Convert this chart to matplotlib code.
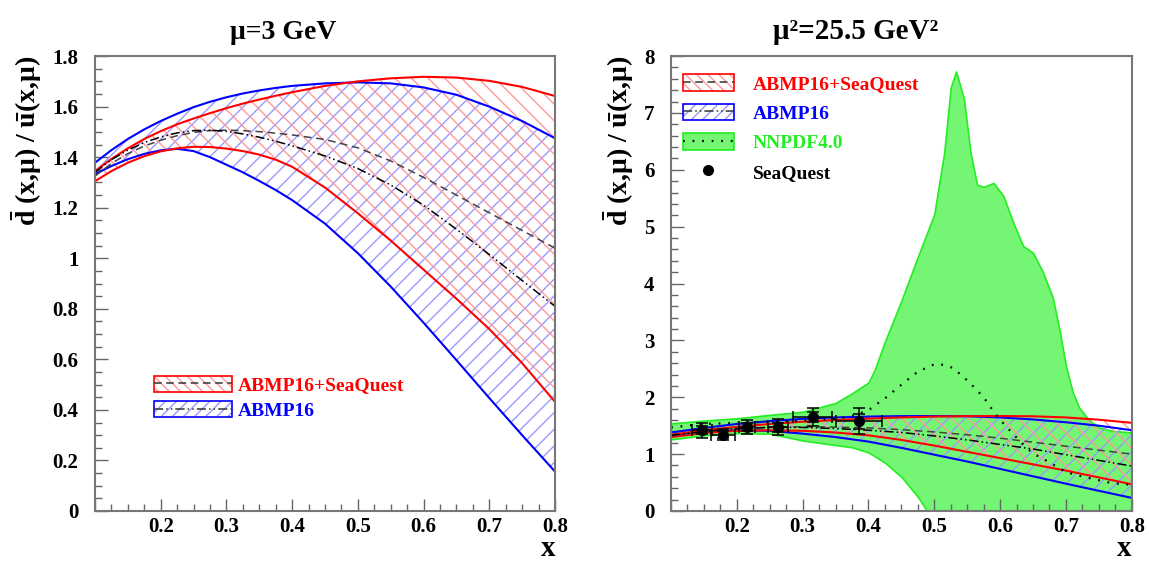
import matplotlib
matplotlib.use('Agg')
import matplotlib.pyplot as plt
from matplotlib.patches import Patch
from matplotlib.lines import Line2D
from matplotlib.legend_handler import HandlerTuple
from matplotlib.ticker import MultipleLocator, FormatStrFormatter

plt.rcParams['font.family'] = ['Liberation Serif', 'DejaVu Serif']
plt.rcParams['font.weight'] = 'bold'
plt.rcParams['mathtext.fontset'] = 'custom'
plt.rcParams['mathtext.rm'] = 'Liberation Serif:bold'
plt.rcParams['mathtext.bf'] = 'Liberation Serif:bold'
plt.rcParams['mathtext.it'] = 'Liberation Serif:italic:bold'
plt.rcParams['hatch.linewidth'] = 1.0

# mu = 3 GeV, x grid of the ABMP16 curves
xl = [0.10, 0.125, 0.15, 0.175, 0.20, 0.225, 0.25, 0.275, 0.30, 0.325, 0.35, 0.375, 0.40,
      0.45, 0.50, 0.55, 0.60, 0.65, 0.70, 0.75, 0.80]
l_sq_up = [1.345, 1.393, 1.435, 1.472, 1.503, 1.530, 1.553, 1.574, 1.594, 1.612, 1.628, 1.643, 1.657,
           1.682, 1.700, 1.712, 1.718, 1.715, 1.702, 1.678, 1.642]
l_sq_lo = [1.305, 1.345, 1.378, 1.404, 1.423, 1.435, 1.441, 1.440, 1.434, 1.424, 1.410, 1.390, 1.362,
           1.280, 1.178, 1.070, 0.955, 0.840, 0.720, 0.585, 0.432]
l_sq_c = [1.325, 1.375, 1.414, 1.444, 1.467, 1.485, 1.498, 1.505, 1.507, 1.505, 1.501, 1.495, 1.488,
          1.470, 1.437, 1.385, 1.320, 1.250, 1.180, 1.110, 1.040]
l_ab_up = [1.378, 1.428, 1.472, 1.510, 1.543, 1.572, 1.598, 1.619, 1.637, 1.652, 1.664, 1.674, 1.682,
           1.692, 1.696, 1.692, 1.676, 1.647, 1.600, 1.543, 1.475]
l_ab_lo = [1.333, 1.365, 1.392, 1.413, 1.427, 1.433, 1.424, 1.400, 1.370, 1.340, 1.306, 1.270, 1.230,
           1.137, 1.020, 0.888, 0.745, 0.597, 0.447, 0.300, 0.156]
l_ab_c = [1.340, 1.390, 1.428, 1.458, 1.480, 1.496, 1.505, 1.507, 1.502, 1.492, 1.479, 1.463, 1.445,
          1.405, 1.355, 1.290, 1.210, 1.115, 1.015, 0.912, 0.810]

# mu^2 = 25.5 GeV^2
xr = [0.10, 0.15, 0.20, 0.25, 0.30, 0.35, 0.40, 0.45, 0.50, 0.55, 0.60, 0.65, 0.70, 0.75, 0.80]
r_sq_up = [1.34, 1.42, 1.48, 1.53, 1.57, 1.60, 1.625, 1.645, 1.66, 1.668, 1.67, 1.665, 1.645, 1.605, 1.55]
r_sq_lo = [1.30, 1.37, 1.41, 1.42, 1.41, 1.38, 1.33, 1.25, 1.15, 1.04, 0.93, 0.82, 0.71, 0.59, 0.47]
r_sq_c = [1.32, 1.39, 1.44, 1.47, 1.48, 1.475, 1.46, 1.43, 1.39, 1.34, 1.28, 1.21, 1.14, 1.07, 1.00]
r_ab_up = [1.38, 1.46, 1.53, 1.58, 1.62, 1.645, 1.66, 1.668, 1.67, 1.665, 1.645, 1.61, 1.56, 1.50, 1.42]
r_ab_lo = [1.33, 1.39, 1.42, 1.41, 1.36, 1.30, 1.22, 1.11, 0.99, 0.87, 0.74, 0.61, 0.48, 0.355, 0.23]
r_ab_c = [1.33, 1.40, 1.45, 1.47, 1.47, 1.45, 1.42, 1.38, 1.32, 1.25, 1.17, 1.09, 0.99, 0.89, 0.79]

# NNPDF4.0
nn_x = [0.10, 0.15, 0.20, 0.25, 0.30, 0.35, 0.375, 0.40, 0.41, 0.425, 0.45, 0.475, 0.50, 0.515, 0.525,
        0.533, 0.545, 0.555, 0.565, 0.575, 0.59, 0.605, 0.62, 0.635, 0.65, 0.665, 0.68, 0.69, 0.70,
        0.71, 0.72, 0.735, 0.75, 0.77, 0.80]
nn_up = [1.54, 1.59, 1.63, 1.69, 1.745, 1.90, 2.07, 2.26, 2.50, 2.98, 3.70, 4.47, 5.22, 6.30, 7.45,
         7.73, 7.25, 6.30, 5.74, 5.70, 5.77, 5.54, 5.07, 4.66, 4.54, 4.20, 3.75, 3.20, 2.55,
         2.10, 1.82, 1.60, 1.47, 1.41, 1.38]
nn_lo = [1.26, 1.33, 1.37, 1.36, 1.24, 1.16, 1.12, 1.03, 0.96, 0.85, 0.60, 0.25, -0.20, -0.5, -0.6,
         -0.7, -0.8, -0.9, -1.0, -1.0, -1.0, -1.0, -1.0, -1.0, -1.0, -1.0, -1.0, -1.0, -1.0,
         -1.0, -1.0, -1.0, -1.0, -1.0, -1.0]
nn_c = [1.47, 1.53, 1.55, 1.57, 1.58, 1.62, 1.67, 1.77, 1.86, 1.98, 2.22, 2.45, 2.58, 2.57, 2.53,
        2.47, 2.35, 2.24, 2.12, 2.00, 1.75, 1.54, 1.35, 1.17, 1.01, 0.92, 0.82, 0.75, 0.69,
        0.65, 0.62, 0.58, 0.54, 0.49, 0.46]

# SeaQuest
sq_x = [0.147, 0.179, 0.215, 0.262, 0.315, 0.385]
sq_y = [1.42, 1.34, 1.48, 1.47, 1.65, 1.58]
sq_xerr = [0.015, 0.018, 0.012, 0.015, 0.03, 0.035]
sq_ystat = [0.07, 0.06, 0.07, 0.08, 0.09, 0.13]
sq_ytot = [0.13, 0.10, 0.12, 0.14, 0.16, 0.23]

RED_H = '#ff9a9a'
BLUE_H = '#9a9aff'
GREEN_F = '#74f574'
GREEN_E = '#22ee22'
DASH = (0, (5, 3))
DASHDOT = (0, (6, 2, 1, 2, 1, 2))
LAB = r'$\bar{\mathrm{d}}$ (x,' + '\u03bc) / ' + r'$\bar{\mathrm{u}}$(x,' + '\u03bc)'


def draw_bands(ax, x, sq_up, sq_lo, sq_c, ab_up, ab_lo, ab_c):
    ax.fill_between(x, ab_lo, ab_up, facecolor='none', edgecolor=BLUE_H, hatch='//', linewidth=0)
    ax.fill_between(x, sq_lo, sq_up, facecolor='none', edgecolor=RED_H, hatch='\\\\', linewidth=0)
    ax.plot(x, ab_up, color='blue', lw=1.5)
    ax.plot(x, ab_lo, color='blue', lw=1.5)
    ax.plot(x, sq_up, color='red', lw=1.5)
    ax.plot(x, sq_lo, color='red', lw=1.5)
    ax.plot(x, sq_c, color='#444444', lw=1.1, linestyle=DASH)
    ax.plot(x, ab_c, color='black', lw=1.1, linestyle=DASHDOT)


def style_axes(ax, ymax, ymaj, ymin):
    ax.set_xlim(0.1, 0.8)
    ax.set_ylim(0, ymax)
    ax.xaxis.set_major_locator(MultipleLocator(0.1))
    ax.xaxis.set_minor_locator(MultipleLocator(0.025))
    ax.yaxis.set_major_locator(MultipleLocator(ymaj))
    ax.yaxis.set_minor_locator(MultipleLocator(ymin))
    ax.yaxis.set_major_formatter(FormatStrFormatter('%g'))
    ax.xaxis.set_major_formatter(lambda v, p: '' if v < 0.15 else '%g' % round(v, 2))
    ax.tick_params(which='both', direction='in', color='#666666', labelsize=15, top=False, right=False)
    ax.tick_params(which='major', length=9, width=1)
    ax.tick_params(which='minor', length=5, width=1)
    ax.tick_params(axis='x', pad=4)
    ax.tick_params(axis='y', pad=12)
    for s in ax.spines.values():
        s.set_color('#777777')
        s.set_linewidth(1.5)
    for lab in ax.get_xticklabels() + ax.get_yticklabels():
        lab.set_fontweight('bold')
    ax.set_xlabel('x', loc='right', fontsize=21, fontweight='bold', labelpad=-1)
    ax.set_ylabel(LAB, loc='top', fontsize=20, fontweight='bold', labelpad=6)


def band_handle(hcol, ecol, hatch, ls):
    return (Patch(facecolor='none', edgecolor=hcol, hatch=hatch, linewidth=0),
            Patch(fill=False, edgecolor=ecol, linewidth=1.2),
            Line2D([0], [0], color='#333333', lw=1.1, linestyle=ls))


fig = plt.figure(figsize=(11.49, 5.63), dpi=100)
ax1 = fig.add_axes([0.0827, 0.0924, 0.4003, 0.808])
ax2 = fig.add_axes([0.584, 0.0924, 0.401, 0.808])

# left panel
draw_bands(ax1, xl, l_sq_up, l_sq_lo, l_sq_c, l_ab_up, l_ab_lo, l_ab_c)
style_axes(ax1, 1.8, 0.2, 0.05)
ax1.text(0.41, 1.025, '\u03bc=3 GeV', transform=ax1.transAxes, ha='center', va='bottom', fontsize=20)
h1 = [band_handle(RED_H, 'red', '\\\\\\', DASH), band_handle(BLUE_H, 'blue', '///', DASHDOT)]
ax1.legend(h1, ['ABMP16+SeaQuest', 'ABMP16'], handler_map={tuple: HandlerTuple(ndivide=1, pad=0)},
           loc='upper left', bbox_to_anchor=(0.09, 0.336), frameon=False,
           labelcolor=['red', 'blue'], handlelength=4.0, handleheight=0.9, handletextpad=0.3,
           labelspacing=0.35, prop={'weight': 'bold', 'size': 14})

# right panel
ax2.fill_between(nn_x, nn_lo, nn_up, facecolor=GREEN_F, edgecolor=GREEN_E, linewidth=1.2)
draw_bands(ax2, xr, r_sq_up, r_sq_lo, r_sq_c, r_ab_up, r_ab_lo, r_ab_c)
ax2.plot(nn_x, nn_c, color='black', lw=1.6, linestyle=(0, (0.8, 3.5)))
ax2.errorbar(sq_x, sq_y, yerr=sq_ytot, xerr=sq_xerr, fmt='none', ecolor='black', elinewidth=1.1,
             capsize=4, capthick=1.1)
ax2.errorbar(sq_x, sq_y, yerr=sq_ystat, fmt='o', color='black', ms=7, elinewidth=1.1,
             capsize=4, capthick=1.1)
style_axes(ax2, 8, 1, 0.2)
ax2.text(0.40, 1.025, '\u03bc\u00b2=25.5 GeV\u00b2', transform=ax2.transAxes, ha='center', va='bottom',
         fontsize=21)
h2 = [band_handle(RED_H, 'red', '\\\\\\', DASH), band_handle(BLUE_H, 'blue', '///', DASHDOT),
      (Patch(facecolor=GREEN_F, edgecolor=GREEN_E, linewidth=1.2),
       Line2D([0], [0], color='black', lw=1.6, linestyle=(0, (0.8, 3.5)))),
      Line2D([0], [0], marker='o', color='black', ms=7, linestyle='none')]
ax2.legend(h2, ['ABMP16+SeaQuest', 'ABMP16', 'NNPDF4.0', 'SeaQuest'],
           handler_map={tuple: HandlerTuple(ndivide=1, pad=0)},
           loc='upper left', bbox_to_anchor=(-0.012, 0.998), frameon=False,
           labelcolor=['red', 'blue', GREEN_E, 'black'], handlelength=2.6, handleheight=0.9,
           handletextpad=1.0, labelspacing=0.55, prop={'weight': 'bold', 'size': 14})

fig.savefig('out.png', dpi=100)
